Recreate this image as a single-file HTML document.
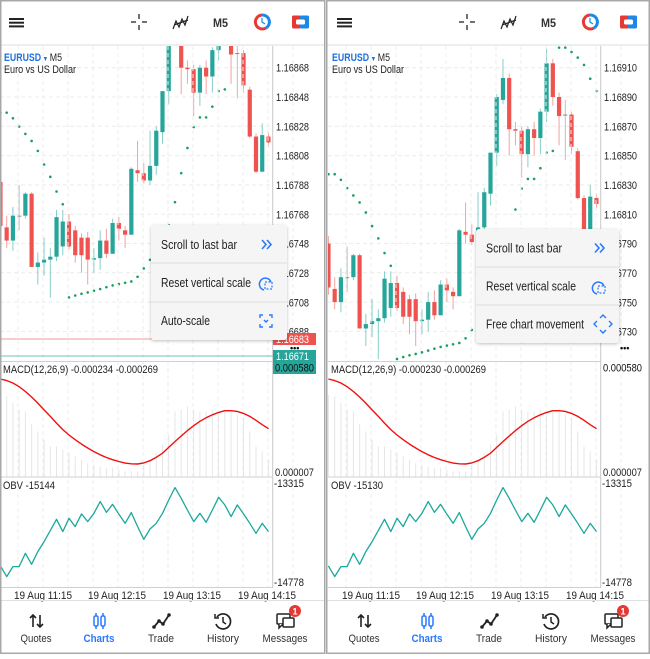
<!DOCTYPE html>
<html><head><meta charset="utf-8">
<style>
body{margin:0;width:650px;height:654px;overflow:hidden;background:#fff;font-family:"Liberation Sans",Arial,sans-serif}
svg text{font-family:"Liberation Sans",Arial,sans-serif}
.pl{font-size:11px;fill:#222}
.nav{font-size:11px;fill:#333;text-anchor:middle}
.mi{font-size:12.5px;fill:#222}
</style></head>
<body>
<svg id="root" width="650" height="654" xmlns="http://www.w3.org/2000/svg">
<defs>
<clipPath id="cpL" clipPathUnits="userSpaceOnUse"><rect x="0" y="0" width="325" height="654"/></clipPath>
<clipPath id="cpR" clipPathUnits="userSpaceOnUse"><rect x="-2" y="0" width="324" height="654"/></clipPath>
<clipPath id="plot" clipPathUnits="userSpaceOnUse"><rect x="0" y="46" width="272.5" height="315"/></clipPath>
<filter id="sh" x="-10%" y="-10%" width="120%" height="125%"><feDropShadow dx="0" dy="1" stdDeviation="1.5" flood-color="#000" flood-opacity="0.25"/></filter>
</defs>

<!-- LEFT PANEL -->
<g id="panelL" clip-path="url(#cpL)">
<g id="marksL" clip-path="url(#plot)"></g>
<g id="subL"></g>
<g>
 <rect x="0" y="44" width="325" height="2" fill="#eee"/>
 <g stroke="#222" stroke-width="2"><line x1="9" y1="19" x2="24" y2="19"/><line x1="9" y1="22.7" x2="24" y2="22.7"/><line x1="9" y1="26.4" x2="24" y2="26.4"/></g>
 <g stroke="#222" stroke-width="1.3"><line x1="131" y1="22" x2="136" y2="22"/><line x1="142" y1="22" x2="147" y2="22"/><line x1="139" y1="14" x2="139" y2="19"/><line x1="139" y1="25" x2="139" y2="30"/></g>
 <path d="M173 29 L176 21 L179 27 L182 19 L185 25 L188 16 M174 25 L188 20" stroke="#222" stroke-width="1.2" fill="none"/>
 <text x="213" y="27" font-size="12" fill="#333" font-weight="bold" textLength="15" lengthAdjust="spacingAndGlyphs">M5</text>
 <g><path d="M262 15 A7 7 0 1 0 266 28" stroke="#e53935" stroke-width="3" fill="none"/><path d="M266 28 A7 7 0 0 0 262 15" stroke="#1e88e5" stroke-width="3" fill="none"/><path d="M262 18 L262 22 L265 24" stroke="#1e88e5" stroke-width="1.2" fill="none"/></g>
 <g><rect x="292" y="15.5" width="9" height="13" rx="1.5" fill="#e53935"/><rect x="300" y="15.5" width="9" height="13" rx="1.5" fill="#1e88e5"/><rect x="296" y="19.5" width="9" height="5" rx="1.5" fill="#fff"/></g>
</g>
<text x="4" y="61" font-size="11" textLength="58" lengthAdjust="spacingAndGlyphs"><tspan fill="#1e6fe0" font-weight="bold">EURUSD</tspan><tspan fill="#1e6fe0" font-size="7"> ▼ </tspan><tspan fill="#222">M5</tspan></text>
<text x="4" y="73" font-size="11" fill="#222" textLength="72" lengthAdjust="spacingAndGlyphs">Euro vs US Dollar</text>
<g>
<text class="pl" x="276" y="71.7" textLength="33" lengthAdjust="spacingAndGlyphs">1.16868</text><text class="pl" x="276" y="101" textLength="33" lengthAdjust="spacingAndGlyphs">1.16848</text><text class="pl" x="276" y="130.3" textLength="33" lengthAdjust="spacingAndGlyphs">1.16828</text><text class="pl" x="276" y="159.7" textLength="33" lengthAdjust="spacingAndGlyphs">1.16808</text><text class="pl" x="276" y="189" textLength="33" lengthAdjust="spacingAndGlyphs">1.16788</text><text class="pl" x="276" y="218.3" textLength="33" lengthAdjust="spacingAndGlyphs">1.16768</text><text class="pl" x="276" y="247.7" textLength="33" lengthAdjust="spacingAndGlyphs">1.16748</text><text class="pl" x="276" y="277" textLength="33" lengthAdjust="spacingAndGlyphs">1.16728</text><text class="pl" x="276" y="306.3" textLength="33" lengthAdjust="spacingAndGlyphs">1.16708</text><text class="pl" x="276" y="335.7" textLength="33" lengthAdjust="spacingAndGlyphs">1.16688</text>
</g>
<line x1="0" y1="339" x2="273" y2="339" stroke="#f19a98" stroke-width="1"/>
<line x1="0" y1="356" x2="273" y2="356" stroke="#6cc4bb" stroke-width="1"/>
<rect x="273" y="333" width="43" height="12" fill="#ef5350"/>
<text x="276" y="343" font-size="11" fill="#fff" textLength="33" lengthAdjust="spacingAndGlyphs">1.16683</text>
<text x="290" y="351" font-size="9" fill="#111" font-weight="bold">•••</text>
<rect x="273" y="350" width="43" height="12" fill="#26a69a"/>
<text x="276" y="360" font-size="11" fill="#fff" textLength="33" lengthAdjust="spacingAndGlyphs">1.16671</text>
<rect x="273" y="362" width="43" height="12" fill="#26a69a"/>
<text x="275" y="371.5" font-size="11" fill="#111" textLength="39" lengthAdjust="spacingAndGlyphs">0.000580</text>
<text x="3" y="373" font-size="11" fill="#222" textLength="155" lengthAdjust="spacingAndGlyphs">MACD(12,26,9) -0.000234 -0.000269</text>
<text x="275" y="476" class="pl" textLength="39" lengthAdjust="spacingAndGlyphs">0.000007</text>
<text x="3" y="489" font-size="11" fill="#222" textLength="52" lengthAdjust="spacingAndGlyphs">OBV -15144</text>
<text x="274" y="487" class="pl" textLength="30" lengthAdjust="spacingAndGlyphs">-13315</text>
<text x="274" y="586" class="pl" textLength="30" lengthAdjust="spacingAndGlyphs">-14778</text>
<g font-size="11" fill="#222">
<text x="14" y="599" textLength="58" lengthAdjust="spacingAndGlyphs">19 Aug 11:15</text><text x="88" y="599" textLength="58" lengthAdjust="spacingAndGlyphs">19 Aug 12:15</text><text x="163" y="599" textLength="58" lengthAdjust="spacingAndGlyphs">19 Aug 13:15</text><text x="238" y="599" textLength="58" lengthAdjust="spacingAndGlyphs">19 Aug 14:15</text>
</g>
<g filter="url(#sh)">
<rect x="151" y="225" width="136" height="115" rx="3" fill="#f5f5f5"/>
</g>
<line x1="151" y1="263" x2="287" y2="263" stroke="#ddd"/><line x1="151" y1="302" x2="287" y2="302" stroke="#ddd"/>
<g><text class="mi" x="161" y="249" textLength="76" lengthAdjust="spacingAndGlyphs">Scroll to last bar</text><path d="M262 240 L266 244.5 L262 249 M267 240 L271 244.5 L267 249" stroke="#2979ff" stroke-width="1.6" fill="none"/></g>
<g><text class="mi" x="161" y="287" textLength="90" lengthAdjust="spacingAndGlyphs">Reset vertical scale</text><path d="M264 290 A6 6 0 1 1 271 282" stroke="#2979ff" stroke-width="1.5" fill="none"/><rect x="265" y="282" width="7" height="7" stroke="#2979ff" stroke-width="1.2" fill="none" stroke-dasharray="2 1.5"/></g>
<g><text class="mi" x="161" y="325" textLength="49" lengthAdjust="spacingAndGlyphs">Auto-scale</text><path d="M260 318 V315 H263 M269 315 H272 V318 M272 324 V327 H269 M263 327 H260 V324 M264 320 L266 322 L268 320" stroke="#2979ff" stroke-width="1.4" fill="none"/></g>
<g>
<line x1="0" y1="600.5" x2="325" y2="600.5" stroke="#e0e0e0"/>
<g><path d="M33 627 V615 M30 618 L33 615 L36 618 M40 615 V627 M37 624 L40 627 L43 624" stroke="#222" stroke-width="1.6" fill="none"/><text class="nav" x="36" y="642" textLength="31" lengthAdjust="spacingAndGlyphs">Quotes</text></g>
<g><rect x="94" y="616" width="4" height="10" rx="1.5" stroke="#2979ff" stroke-width="1.5" fill="none"/><rect x="101" y="616" width="4" height="10" rx="1.5" stroke="#2979ff" stroke-width="1.5" fill="none"/><path d="M96 613 V616 M96 626 V629 M103 613 V616 M103 626 V629" stroke="#2979ff" stroke-width="1.5"/><text class="nav" x="99" y="642" font-weight="bold" style="fill:#2979ff" textLength="31" lengthAdjust="spacingAndGlyphs">Charts</text></g>
<g><path d="M154 627 L159 621 L163 624 L169 615" stroke="#222" stroke-width="1.8" fill="none"/><circle cx="154" cy="627" r="1.8" fill="#222"/><circle cx="159" cy="621" r="1.8" fill="#222"/><circle cx="163" cy="624" r="1.8" fill="#222"/><circle cx="169" cy="615" r="1.8" fill="#222"/><text class="nav" x="161" y="642" textLength="26" lengthAdjust="spacingAndGlyphs">Trade</text></g>
<g><path d="M217 617 A7.5 7.5 0 1 1 216 624" stroke="#222" stroke-width="1.7" fill="none"/><path d="M215 614 V618 H219" stroke="#222" stroke-width="1.5" fill="none"/><path d="M223 617 V622 L226 624" stroke="#222" stroke-width="1.5" fill="none"/><text class="nav" x="223" y="642" textLength="32" lengthAdjust="spacingAndGlyphs">History</text></g>
<g><rect x="277" y="614" width="13" height="10" rx="1" stroke="#222" stroke-width="1.5" fill="#fff"/><path d="M279 624 L279 628 L283 624" stroke="#222" stroke-width="1.5" fill="#fff"/><rect x="283" y="618" width="11" height="9" rx="1" stroke="#222" stroke-width="1.5" fill="#fff"/><text class="nav" x="285" y="642" textLength="45" lengthAdjust="spacingAndGlyphs">Messages</text>
<circle cx="295" cy="611" r="6" fill="#e53935"/><text x="295" y="614.5" font-size="9" fill="#fff" text-anchor="middle" font-weight="bold">1</text></g>
</g>
</g>

<!-- RIGHT PANEL -->
<g id="panelR" transform="translate(328,0)" clip-path="url(#cpR)">
<g id="marksR" clip-path="url(#plot)"></g>
<g id="subR"></g>
<g>
 <rect x="-3" y="44" width="325" height="2" fill="#eee"/>
 <g stroke="#222" stroke-width="2"><line x1="9" y1="19" x2="24" y2="19"/><line x1="9" y1="22.7" x2="24" y2="22.7"/><line x1="9" y1="26.4" x2="24" y2="26.4"/></g>
 <g stroke="#222" stroke-width="1.3"><line x1="131" y1="22" x2="136" y2="22"/><line x1="142" y1="22" x2="147" y2="22"/><line x1="139" y1="14" x2="139" y2="19"/><line x1="139" y1="25" x2="139" y2="30"/></g>
 <path d="M173 29 L176 21 L179 27 L182 19 L185 25 L188 16 M174 25 L188 20" stroke="#222" stroke-width="1.2" fill="none"/>
 <text x="213" y="27" font-size="12" fill="#333" font-weight="bold" textLength="15" lengthAdjust="spacingAndGlyphs">M5</text>
 <g><path d="M262 15 A7 7 0 1 0 266 28" stroke="#e53935" stroke-width="3" fill="none"/><path d="M266 28 A7 7 0 0 0 262 15" stroke="#1e88e5" stroke-width="3" fill="none"/><path d="M262 18 L262 22 L265 24" stroke="#1e88e5" stroke-width="1.2" fill="none"/></g>
 <g><rect x="292" y="15.5" width="9" height="13" rx="1.5" fill="#e53935"/><rect x="300" y="15.5" width="9" height="13" rx="1.5" fill="#1e88e5"/><rect x="296" y="19.5" width="9" height="5" rx="1.5" fill="#fff"/></g>
</g>
<text x="4" y="61" font-size="11" textLength="58" lengthAdjust="spacingAndGlyphs"><tspan fill="#1e6fe0" font-weight="bold">EURUSD</tspan><tspan fill="#1e6fe0" font-size="7"> ▼ </tspan><tspan fill="#222">M5</tspan></text>
<text x="4" y="73" font-size="11" fill="#222" textLength="72" lengthAdjust="spacingAndGlyphs">Euro vs US Dollar</text>
<g>
<text class="pl" x="276" y="71.7" textLength="33" lengthAdjust="spacingAndGlyphs">1.16910</text><text class="pl" x="276" y="101" textLength="33" lengthAdjust="spacingAndGlyphs">1.16890</text><text class="pl" x="276" y="130.3" textLength="33" lengthAdjust="spacingAndGlyphs">1.16870</text><text class="pl" x="276" y="159.7" textLength="33" lengthAdjust="spacingAndGlyphs">1.16850</text><text class="pl" x="276" y="189" textLength="33" lengthAdjust="spacingAndGlyphs">1.16830</text><text class="pl" x="276" y="218.3" textLength="33" lengthAdjust="spacingAndGlyphs">1.16810</text><text class="pl" x="276" y="247.7" textLength="33" lengthAdjust="spacingAndGlyphs">1.16790</text><text class="pl" x="276" y="277" textLength="33" lengthAdjust="spacingAndGlyphs">1.16770</text><text class="pl" x="276" y="306.3" textLength="33" lengthAdjust="spacingAndGlyphs">1.16750</text><text class="pl" x="276" y="335.7" textLength="33" lengthAdjust="spacingAndGlyphs">1.16730</text>
</g>
<text x="292" y="351" font-size="9" fill="#111" font-weight="bold">•••</text>
<text x="275" y="371.5" font-size="11" fill="#111" textLength="39" lengthAdjust="spacingAndGlyphs">0.000580</text>
<text x="3" y="373" font-size="11" fill="#222" textLength="155" lengthAdjust="spacingAndGlyphs">MACD(12,26,9) -0.000230 -0.000269</text>
<text x="275" y="476" class="pl" textLength="39" lengthAdjust="spacingAndGlyphs">0.000007</text>
<text x="3" y="489" font-size="11" fill="#222" textLength="52" lengthAdjust="spacingAndGlyphs">OBV -15130</text>
<text x="274" y="487" class="pl" textLength="30" lengthAdjust="spacingAndGlyphs">-13315</text>
<text x="274" y="586" class="pl" textLength="30" lengthAdjust="spacingAndGlyphs">-14778</text>
<g font-size="11" fill="#222">
<text x="14" y="599" textLength="58" lengthAdjust="spacingAndGlyphs">19 Aug 11:15</text><text x="88" y="599" textLength="58" lengthAdjust="spacingAndGlyphs">19 Aug 12:15</text><text x="163" y="599" textLength="58" lengthAdjust="spacingAndGlyphs">19 Aug 13:15</text><text x="238" y="599" textLength="58" lengthAdjust="spacingAndGlyphs">19 Aug 14:15</text>
</g>
<g filter="url(#sh)">
<rect x="148" y="229" width="143" height="114" rx="3" fill="#f5f5f5"/>
</g>
<line x1="148" y1="267" x2="291" y2="267" stroke="#ddd"/><line x1="148" y1="305" x2="291" y2="305" stroke="#ddd"/>
<g><text class="mi" x="158" y="252.5" textLength="76" lengthAdjust="spacingAndGlyphs">Scroll to last bar</text><path d="M267 243.5 L271 248 L267 252.5 M272 243.5 L276 248 L272 252.5" stroke="#2979ff" stroke-width="1.6" fill="none"/></g>
<g><text class="mi" x="158" y="290.5" textLength="90" lengthAdjust="spacingAndGlyphs">Reset vertical scale</text><path d="M269 294 A6 6 0 1 1 276 286" stroke="#2979ff" stroke-width="1.5" fill="none"/><rect x="270" y="286" width="7" height="7" stroke="#2979ff" stroke-width="1.2" fill="none" stroke-dasharray="2 1.5"/></g>
<g><text class="mi" x="158" y="328.5" textLength="98" lengthAdjust="spacingAndGlyphs">Free chart movement</text><path d="M272 318 L275 315 L278 318 M272 330 L275 333 L278 330 M269 321 L266 324 L269 327 M281 321 L284 324 L281 327" stroke="#2979ff" stroke-width="1.4" fill="none"/></g>
<g>
<line x1="-3" y1="600.5" x2="325" y2="600.5" stroke="#e0e0e0"/>
<g><path d="M33 627 V615 M30 618 L33 615 L36 618 M40 615 V627 M37 624 L40 627 L43 624" stroke="#222" stroke-width="1.6" fill="none"/><text class="nav" x="36" y="642" textLength="31" lengthAdjust="spacingAndGlyphs">Quotes</text></g>
<g><rect x="94" y="616" width="4" height="10" rx="1.5" stroke="#2979ff" stroke-width="1.5" fill="none"/><rect x="101" y="616" width="4" height="10" rx="1.5" stroke="#2979ff" stroke-width="1.5" fill="none"/><path d="M96 613 V616 M96 626 V629 M103 613 V616 M103 626 V629" stroke="#2979ff" stroke-width="1.5"/><text class="nav" x="99" y="642" font-weight="bold" style="fill:#2979ff" textLength="31" lengthAdjust="spacingAndGlyphs">Charts</text></g>
<g><path d="M154 627 L159 621 L163 624 L169 615" stroke="#222" stroke-width="1.8" fill="none"/><circle cx="154" cy="627" r="1.8" fill="#222"/><circle cx="159" cy="621" r="1.8" fill="#222"/><circle cx="163" cy="624" r="1.8" fill="#222"/><circle cx="169" cy="615" r="1.8" fill="#222"/><text class="nav" x="161" y="642" textLength="26" lengthAdjust="spacingAndGlyphs">Trade</text></g>
<g><path d="M217 617 A7.5 7.5 0 1 1 216 624" stroke="#222" stroke-width="1.7" fill="none"/><path d="M215 614 V618 H219" stroke="#222" stroke-width="1.5" fill="none"/><path d="M223 617 V622 L226 624" stroke="#222" stroke-width="1.5" fill="none"/><text class="nav" x="223" y="642" textLength="32" lengthAdjust="spacingAndGlyphs">History</text></g>
<g><rect x="277" y="614" width="13" height="10" rx="1" stroke="#222" stroke-width="1.5" fill="#fff"/><path d="M279 624 L279 628 L283 624" stroke="#222" stroke-width="1.5" fill="#fff"/><rect x="283" y="618" width="11" height="9" rx="1" stroke="#222" stroke-width="1.5" fill="#fff"/><text class="nav" x="285" y="642" textLength="45" lengthAdjust="spacingAndGlyphs">Messages</text>
<circle cx="295" cy="611" r="6" fill="#e53935"/><text x="295" y="614.5" font-size="9" fill="#fff" text-anchor="middle" font-weight="bold">1</text></g>
</g>
</g>

<g fill="none" stroke="#a8a8a8" stroke-width="1.5">
<rect x="0.75" y="0.75" width="324" height="652.5"/>
<rect x="326.75" y="0.75" width="322.5" height="652.5"/>
</g>
</svg>

<script>
// ---- data (price values in 1e-5 points above 1.16000) ----
const candleOpen  = [790,759,750,767,767,782,732,735,737,739,746,763,757,752,752,737,738,750,741,762,757,754,798,796,791,801,824,852,888,903,868,867,851,868,862,880,913,890,878,878,853,821,797,821];
const candleHigh  = [795,767,773,788,783,783,742,752,745,771,771,768,760,755,756,745,757,758,765,766,760,800,818,803,825,828,852,892,916,906,873,870,870,873,882,923,916,893,888,880,855,823,830,824];
const candleLow   = [755,745,743,757,765,732,720,726,711,736,740,744,735,728,720,728,730,738,741,750,745,754,790,789,788,795,816,843,885,850,857,835,842,850,851,873,884,857,847,851,820,796,797,814];
const candleClose = [760,750,767,767,782,732,735,737,739,766,763,746,740,740,737,738,750,741,762,758,754,799,796,791,801,825,852,890,903,868,867,851,868,862,880,913,890,877,878,856,821,797,822,817];
const sarValues   = [837.3,837.3,833.5,827.8,822.8,818,811.2,801.9,793.5,783.5,774.8,711.2,712.5,713.7,714.6,715.7,716.9,718.2,719.4,720.3,721.2,722.1,725.3,731,736.9,745,752,760.5,776.2,796,813.2,827.5,834.1,834.1,841.4,852.1,853.2,923.7,923.7,920.7,916.9,911.9,902.5,894.1];
// MACD in 1e-6 units
const macdHist    = [420,413,379,346,337,273,236,194,160,160,143,126,110,93,76,67,59,51,51,42,34,34,34,67,93,126,169,219,337,346,363,346,337,337,346,337,337,337,320,304,236,160,135,93];
const macdSignal  = [501,493,481,462,438,410,379,345,312,278,245,218,194,172,152,134,118,104,93,84,76,72,71,77,88,105,126,155,185,213,240,265,287,305,320,332,341,341,337,327,312,292,270,250];
const obvValues   = [-14545,-14704,-14555,-14555,-14357,-14520,-14332,-14183,-14019,-13851,-14034,-13836,-13960,-13771,-13885,-13761,-13588,-13747,-13627,-13776,-13910,-13751,-13960,-14148,-13995,-13910,-13761,-13563,-13379,-13538,-13712,-13885,-13761,-13895,-13712,-13523,-13637,-13811,-13637,-13771,-13910,-14059,-13910,-14034];
const priceTopL = 868, priceTopR = 910;
const macdMax = 580, macdMin = 7;
const obvMax = -13315, obvMin = -14778;

const NS='http://www.w3.org/2000/svg';
function el(tag, attrs, parent){const e=document.createElementNS(NS,tag);for(const k in attrs)e.setAttribute(k,attrs[k]);parent.appendChild(e);return e;}
const xOf = k => 0.44 + k*6.233;
const yPrice = (p, top) => 67.7 + (top - p)*1.465;
const yMacd = v => 476.7 - (v - macdMin)/(macdMax - macdMin)*113.3;
const yObv = v => 483.3 + (obvMax - v)/(obvMax - obvMin)*98.3;

function drawPanel(gMarks, gSub, top){
  for(let i=0;i<10;i++){const y=67.7+i*29.3;
    const g=el('line',{x1:0,x2:273,y1:y,y2:y,stroke:'#ececec','stroke-dasharray':'4 3'},gMarks);
    
    }
  for(let i=-1;i<11;i++){const x=43+i*25;
    const g=el('line',{x1:x,x2:x,y1:46,y2:587,stroke:'#ececec','stroke-dasharray':'4 3'},gSub);
    
    }
  const ax=el('line',{x1:272.7,x2:272.7,y1:46,y2:588,stroke:'#c8c8c8'},gSub);
  
  
  [361.5,477,587.5].forEach(y=>{const s=el('line',{x1:0,x2:273,y1:y,y2:y,stroke:'#d0d0d0'},gSub);
    
    });
  for(let k=0;k<candleOpen.length;k++){
    const o=candleOpen[k],c=candleClose[k],h=candleHigh[k],l=candleLow[k];
    const col = c>o ? '#26a69a' : (c<o ? '#ef5350' : '#888');
    const x=xOf(k);
    const w=el('line',{x1:x,x2:x,y1:yPrice(h,top),y2:yPrice(l,top),stroke:col,'stroke-width':1,'stroke-opacity':0.55},gMarks);
    
    
    const y1=yPrice(Math.max(o,c),top), y2=yPrice(Math.min(o,c),top);
    const b=el('rect',{x:x-2.1,y:y1,width:4.2,height:Math.max(1,y2-y1),fill:col},gMarks);
    
    
  }
  for(let k=0;k<sarValues.length;k++){
    const d=el('circle',{cx:xOf(k),cy:yPrice(sarValues[k],top),r:1.3,fill:'#17a05d'},gMarks);
    
    
  }
  for(let k=0;k<macdHist.length;k++){
    const x=xOf(k);
    const b=el('line',{x1:x,x2:x,y1:yMacd(macdHist[k]),y2:476.5,stroke:'#e6e6e6','stroke-width':1},gSub);
    
    
  }
  let pts=macdSignal.map((v,k)=>xOf(k).toFixed(1)+','+yMacd(v).toFixed(1)).join(' ');
  const sl=el('polyline',{points:pts,fill:'none',stroke:'#f01010','stroke-width':1.4,'stroke-linejoin':'round'},gSub);
  
  
  pts=obvValues.map((v,k)=>xOf(k).toFixed(1)+','+yObv(v).toFixed(1)).join(' ');
  const ob=el('polyline',{points:pts,fill:'none',stroke:'#1aa89c','stroke-width':1.3,'stroke-linejoin':'round'},gSub);
  
  
}
drawPanel(document.getElementById('marksL'), document.getElementById('subL'), priceTopL);
drawPanel(document.getElementById('marksR'), document.getElementById('subR'), priceTopR);
</script>
</body></html>
